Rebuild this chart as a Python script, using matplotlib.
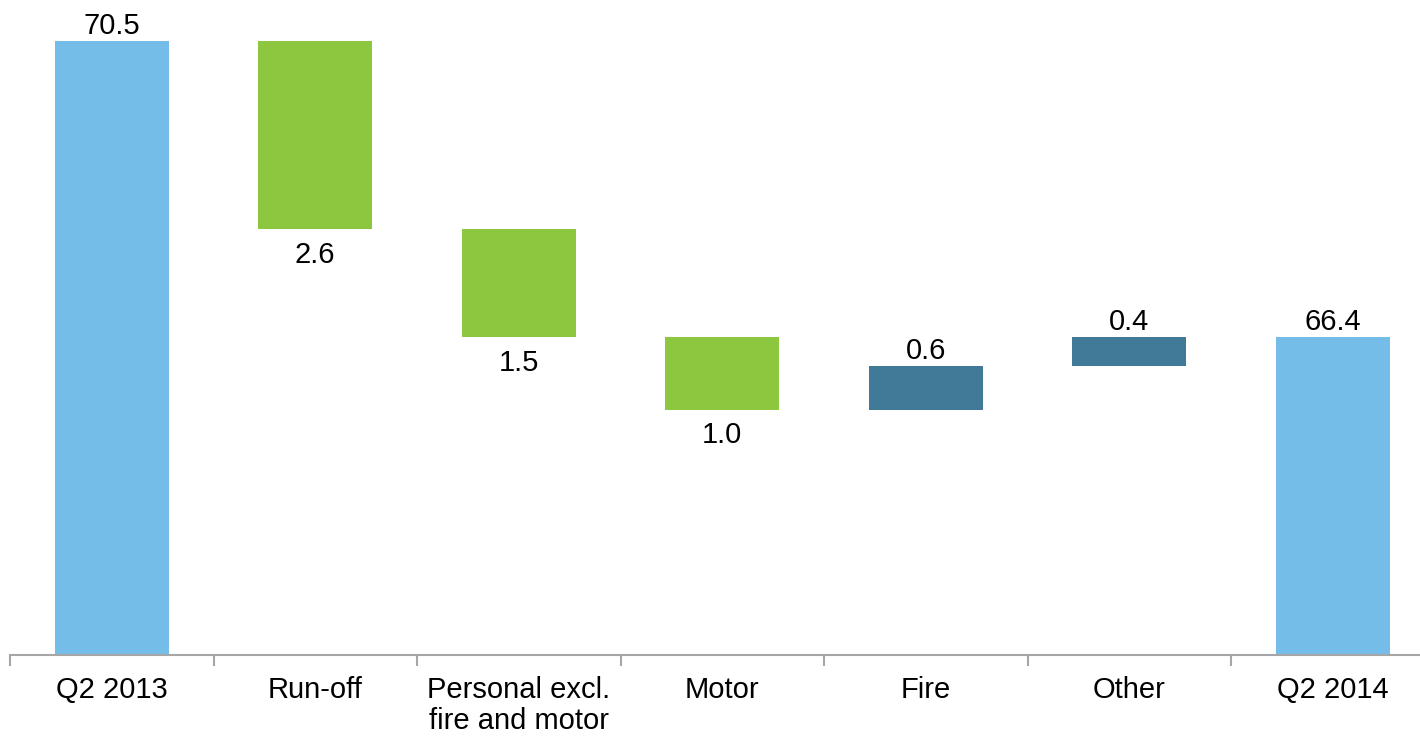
import numpy as np
import matplotlib.pyplot as plt

categories = ["Q2 2013", "Run-off", "Personal excl.\nfire and motor",
              "Motor", "Fire", "Other", "Q2 2014"]
start_value = 70.5
changes = [-2.6, -1.5, -1.0, 0.6, 0.4]
end_value = 66.4

total_color = "#75BDE9"
down_color = "#8DC63F"
up_color = "#417A99"

plt.rcParams["font.family"] = ["Liberation Sans", "DejaVu Sans"]

fig = plt.figure(figsize=(14.2, 7.36), dpi=100)
# axis runs off the right edge, same as the slide it came from
ax = fig.add_axes([10 / 1420, 81 / 736, 1424.5 / 1420, 655 / 736])

x = np.arange(len(categories))
width = 0.56
base = 62.0

# bottoms/heights for the waterfall
bottoms = [base]
heights = [start_value - base]
colors = [total_color]
level = start_value
for c in changes:
    new = level + c
    bottoms.append(min(level, new))
    heights.append(abs(c))
    colors.append(down_color if c < 0 else up_color)
    level = new
bottoms.append(base)
heights.append(end_value - base)
colors.append(total_color)

ax.bar(x, heights, width, bottom=bottoms, color=colors)

fs = 21
ax.text(x[0], start_value + 0.02, f"{start_value:.1f}", ha="center", va="bottom", fontsize=fs)
ax.text(x[-1], end_value + 0.02, f"{end_value:.1f}", ha="center", va="bottom", fontsize=fs)
for i, c in enumerate(changes, start=1):
    if c < 0:
        ax.text(x[i], bottoms[i] - 0.16, f"{abs(c):.1f}", ha="center", va="top", fontsize=fs)
    else:
        ax.text(x[i], bottoms[i] + heights[i] + 0.02, f"{c:.1f}", ha="center", va="bottom", fontsize=fs)

ax.set_xlim(-0.5, len(categories) - 0.5)
ax.set_ylim(base, base + 655 / 72.2)

for s in ["top", "right", "left"]:
    ax.spines[s].set_visible(False)
ax.spines["bottom"].set_color("#A6A6A6")
ax.spines["bottom"].set_linewidth(1.5)

ax.set_yticks([])
ax.set_xticks(np.arange(len(categories) + 1) - 0.5)
ax.set_xticklabels([])
ax.tick_params(axis="x", which="major", length=8, width=1.5, color="#A6A6A6", direction="out")
ax.set_xticks(x, minor=True)
ax.set_xticklabels(categories, minor=True, fontsize=fs, va="top", linespacing=1.15)
ax.tick_params(axis="x", which="minor", length=0, pad=15)

fig.savefig("out.png", dpi=100)
